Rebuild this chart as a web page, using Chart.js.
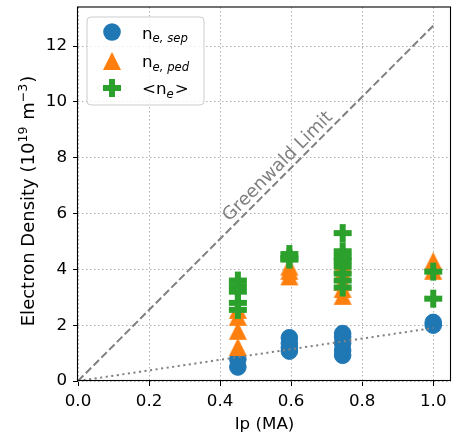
<!DOCTYPE html>
<html>
<head>
<meta charset="utf-8">
<script src="https://cdn.jsdelivr.net/npm/chart.js@4.4.0/dist/chart.umd.min.js"></script>
<style>
  html, body { margin: 0; padding: 0; background: #fff; }
  canvas { display: block; }
</style>
</head>
<body>
<canvas id="densityChart" width="452" height="436"></canvas>
<script>
// values
const sepIp = [0.45, 0.45, 0.595, 0.595, 0.595, 0.595, 0.745, 0.745, 0.745, 0.745, 0.745, 1.0, 1.0];
const sepNe = [0.78, 0.5, 1.55, 1.35, 1.2, 1.07, 1.7, 1.58, 1.35, 1.1, 0.92, 2.0, 2.1];

const pedIp = [0.45, 0.45, 0.45, 0.45, 0.595, 0.595, 0.595, 0.745, 0.745, 0.745, 0.745, 0.745, 1.0, 1.0];
const pedNe = [1.22, 1.8, 2.3, 2.55, 3.75, 3.95, 4.1, 3.05, 3.3, 3.55, 3.9, 4.2, 4.3, 3.95];

const avgIp = [0.45, 0.45, 0.45, 0.45, 0.45, 0.595, 0.595, 0.595,
               0.745, 0.745, 0.745, 0.745, 0.745, 0.745, 0.745, 0.745, 1.0, 1.0];
const avgNe = [3.6, 3.4, 3.2, 2.8, 2.55, 4.55, 4.4, 4.35,
               5.3, 4.65, 4.45, 4.3, 4.1, 3.85, 3.6, 3.35, 3.92, 2.95];

const gwIp = [0, 1.0];
const gwNe = [0, 12.73];
const lowIp = [0, 1.0];
const lowNe = [0, 1.9];

const xTicks = [0, 0.2, 0.4, 0.6, 0.8, 1.0];
const yTicks = [0, 2, 4, 6, 8, 10, 12];

const BLUE = '#1f77b4', ORANGE = '#ff7f0e', GREEN = '#2ca02c';
const FONT = '"DejaVu Sans", Verdana, sans-serif';
const FS = 16.7;
const FS_YLABEL = 18;

Chart.defaults.font.family = FONT;
Chart.defaults.font.size = FS;
Chart.defaults.color = '#000';

function pts(xs, ys) {
    return xs.map((x, i) => ({ x: x, y: ys[i] }));
}

// matplotlib-like filled markers ('^' and 'P')
function markerCanvas(kind, size, color) {
    const c = document.createElement('canvas');
    c.width = c.height = Math.ceil(size) + 2;
    const g = c.getContext('2d');
    const m = c.width / 2, h = size / 2;
    g.fillStyle = color;
    g.beginPath();
    if (kind === 'triangle') {
        g.moveTo(m, m - h);
        g.lineTo(m + h, m + h);
        g.lineTo(m - h, m + h);
    } else {
        const a = h / 3;
        const p = [[-1, -3], [1, -3], [1, -1], [3, -1], [3, 1], [1, 1],
                   [1, 3], [-1, 3], [-1, 1], [-3, 1], [-3, -1], [-1, -1]];
        p.forEach((q, i) => {
            const px = m + q[0] * a, py = m + q[1] * a;
            if (i === 0) g.moveTo(px, py); else g.lineTo(px, py);
        });
    }
    g.closePath();
    g.fill();
    return c;
}
const triImg = markerCanvas('triangle', 18, ORANGE);
const plusImg = markerCanvas('plus', 18, GREEN);

// draws text runs: [text, 0 normal | 1 subscript | 2 superscript]
function drawRuns(ctx, runs, x0, base, size) {
    let cx = x0;
    runs.forEach(p => {
        let yb = base;
        if (p[1] === 1) {
            ctx.font = 'italic ' + (size * 0.7) + 'px ' + FONT;
            yb = base + size * 0.21;
        } else if (p[1] === 2) {
            ctx.font = (size * 0.7) + 'px ' + FONT;
            yb = base - size * 0.36;
        } else {
            ctx.font = size + 'px ' + FONT;
        }
        ctx.fillText(p[0], cx, yb);
        cx += ctx.measureText(p[0]).width + (p[1] ? 1 : 0);
    });
    return cx - x0;
}

function runsWidth(ctx, runs, size) {
    let w = 0;
    runs.forEach(p => {
        ctx.font = (p[1] === 1 ? 'italic ' : '') + (p[1] ? size * 0.7 : size) + 'px ' + FONT;
        w += ctx.measureText(p[0]).width + (p[1] ? 1 : 0);
    });
    return w;
}

const yLabelRuns = [['Electron Density (10', 0], ['19', 2], [' m', 0], ['\u22123', 2], [')', 0]];

const chartBits = {
    id: 'chartBits',
    afterDatasetsDraw(chart) {
        const { ctx, chartArea: a, scales: { x, y } } = chart;
        // Greenwald label along the dashed line
        const lblIp = 0.583;
        const slope = (gwNe[1] - gwNe[0]) / (gwIp[1] - gwIp[0]);
        const px = x.getPixelForValue(lblIp);
        const py = y.getPixelForValue(gwNe[0] + slope * (lblIp - gwIp[0]));
        const ang = Math.atan2(y.getPixelForValue(gwNe[1]) - y.getPixelForValue(gwNe[0]),
                               x.getPixelForValue(gwIp[1]) - x.getPixelForValue(gwIp[0]));
        ctx.save();
        ctx.translate(px, py);
        ctx.rotate(ang);
        ctx.font = '18px ' + FONT;
        ctx.fillStyle = 'gray';
        ctx.textAlign = 'center';
        ctx.textBaseline = 'middle';
        ctx.fillText('Greenwald Limit', 0, -10);
        ctx.restore();

        // axes frame
        ctx.save();
        ctx.strokeStyle = '#000';
        ctx.lineWidth = 1.1;
        ctx.strokeRect(a.left - 0.5, a.top, a.right - a.left, a.bottom - a.top - 0.5);
        ctx.restore();
    },
    afterDraw(chart) {
        const ctx = chart.ctx;

        // y axis label with real superscripts
        ctx.save();
        ctx.fillStyle = '#000';
        ctx.textAlign = 'left';
        ctx.textBaseline = 'alphabetic';
        const yw = runsWidth(ctx, yLabelRuns, FS_YLABEL);
        const yc = (chart.chartArea.top + chart.chartArea.bottom) / 2 + 7;
        ctx.translate(33.5, yc + yw / 2);
        ctx.rotate(-Math.PI / 2);
        drawRuns(ctx, yLabelRuns, 0, 0, FS_YLABEL);
        ctx.restore();

        // legend
        const bx = 87, by = 17, bw = 117, bh = 88, r = 4;
        ctx.save();
        ctx.beginPath();
        ctx.moveTo(bx + r, by);
        ctx.arcTo(bx + bw, by, bx + bw, by + bh, r);
        ctx.arcTo(bx + bw, by + bh, bx, by + bh, r);
        ctx.arcTo(bx, by + bh, bx, by, r);
        ctx.arcTo(bx, by, bx + bw, by, r);
        ctx.closePath();
        ctx.fillStyle = 'rgba(255,255,255,0.8)';
        ctx.fill();
        ctx.strokeStyle = '#cccccc';
        ctx.lineWidth = 1;
        ctx.stroke();

        const mx = 112, tx = 142;
        const rows = [
            { my: 32, base: 38.5, mark: 'circle', runs: [['n', 0], ['e, sep', 1]] },
            { my: 61, base: 67, mark: 'triangle', runs: [['n', 0], ['e, ped', 1]] },
            { my: 88, base: 94, mark: 'plus', runs: [['<n', 0], ['e', 1], ['>', 0]] }
        ];
        rows.forEach(row => {
            if (row.mark === 'circle') {
                ctx.beginPath();
                ctx.arc(mx, row.my, 8.8, 0, Math.PI * 2);
                ctx.fillStyle = BLUE;
                ctx.fill();
            } else {
                const img = row.mark === 'triangle' ? triImg : plusImg;
                ctx.drawImage(img, mx - img.width / 2, row.my - img.height / 2);
            }
            ctx.fillStyle = '#000';
            ctx.textAlign = 'left';
            ctx.textBaseline = 'alphabetic';
            drawRuns(ctx, row.runs, tx, row.base, FS);
        });
        ctx.restore();
    }
};

const gridOpts = {
    color: '#b0b0b0',
    lineWidth: 1,
    tickLength: 5,
    tickColor: '#000',
    tickWidth: 1,
    tickBorderDash: []
};

new Chart(document.getElementById('densityChart'), {
    type: 'scatter',
    data: {
        datasets: [
            {
                data: pts(gwIp, gwNe), showLine: true, pointRadius: 0,
                borderColor: 'gray', borderWidth: 2, borderDash: [7.7, 3.3], order: 0
            },
            {
                data: pts(lowIp, lowNe), showLine: true, pointRadius: 0,
                borderColor: 'gray', borderWidth: 2, borderDash: [2.1, 3.5], order: 0
            },
            {
                label: '<ne>', data: pts(avgIp, avgNe), pointStyle: plusImg, order: 1
            },
            {
                label: 'ne,ped', data: pts(pedIp, pedNe), pointStyle: triImg, order: 2
            },
            {
                label: 'ne,sep', data: pts(sepIp, sepNe), pointStyle: 'circle',
                pointRadius: 8.3, backgroundColor: BLUE, borderColor: BLUE, borderWidth: 1, order: 3
            }
        ]
    },
    options: {
        responsive: false,
        animation: false,
        devicePixelRatio: 1,
        layout: { autoPadding: false, padding: { top: 7, right: 1, bottom: 0, left: 0 } },
        plugins: {
            legend: { display: false },
            tooltip: { enabled: false }
        },
        scales: {
            x: {
                type: 'linear',
                min: 0,
                max: 1.05,
                afterFit: s => { s.height = 55; s.paddingLeft = 0; s.paddingRight = 0; },
                afterBuildTicks: s => { s.ticks = xTicks.map(v => ({ value: v })); },
                grid: gridOpts,
                border: { display: false, dash: [1.5, 2.5] },
                ticks: {
                    padding: 6,
                    includeBounds: false,
                    callback: v => v.toFixed(1)
                },
                title: {
                    display: true,
                    text: 'Ip (MA)',
                    padding: { top: 0, bottom: 1 }
                }
            },
            y: {
                type: 'linear',
                min: 0,
                max: 13.4,
                afterFit: s => { s.width = 78; s.paddingTop = 0; s.paddingBottom = 0; },
                afterBuildTicks: s => { s.ticks = yTicks.map(v => ({ value: v })); },
                grid: gridOpts,
                border: { display: false, dash: [1.5, 2.5] },
                ticks: {
                    padding: 6,
                    includeBounds: false,
                    callback: v => String(v)
                },
                title: { display: false }
            }
        }
    },
    plugins: [chartBits]
});
</script>
</body>
</html>
